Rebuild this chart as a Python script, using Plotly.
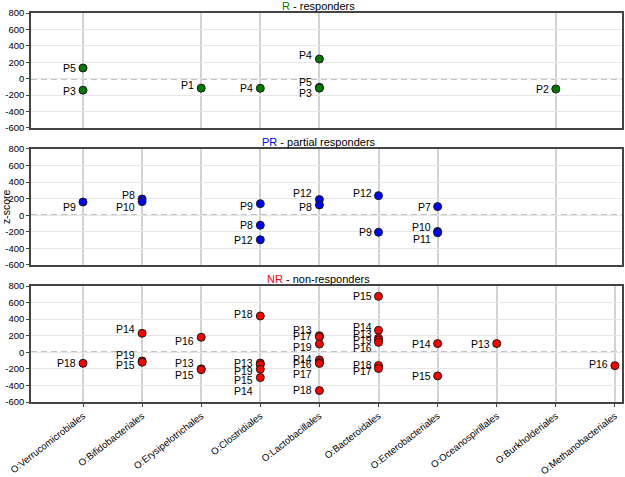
import plotly.graph_objects as go

categories = ["O:Verrucomicrobiales", "O:Bifidobacteriales", "O:Erysipelotrichales",
              "O:Clostridiales", "O:Lactobacillales", "O:Bacteroidales",
              "O:Enterobacteriales", "O:Oceanospirillales", "O:Burkholderiales",
              "O:Methanobacteriales"]
y_ticks = [800, 600, 400, 200, 0, -200, -400, -600]

# R - responders
R_cat = ["O:Verrucomicrobiales", "O:Verrucomicrobiales", "O:Erysipelotrichales",
         "O:Clostridiales", "O:Lactobacillales", "O:Lactobacillales",
         "O:Lactobacillales", "O:Burkholderiales"]
R_pat = ["P5", "P3", "P1", "P4", "P4", "P5", "P3", "P2"]
R_val = [130, -140, -115, -117, 240, -105, -115, -125]

# PR - partial responders
PR_cat = ["O:Verrucomicrobiales", "O:Bifidobacteriales", "O:Bifidobacteriales",
          "O:Clostridiales", "O:Clostridiales", "O:Clostridiales",
          "O:Lactobacillales", "O:Lactobacillales", "O:Bacteroidales",
          "O:Bacteroidales", "O:Enterobacteriales", "O:Enterobacteriales",
          "O:Enterobacteriales"]
PR_pat = ["P9", "P8", "P10", "P9", "P8", "P12", "P12", "P8", "P12", "P9", "P7", "P10", "P11"]
PR_val = [160, 197, 165, 140, -120, -295, 189, 125, 237, -205, 105, -195, -210]

# NR - non-responders
NR_cat = ["O:Verrucomicrobiales",
          "O:Bifidobacteriales", "O:Bifidobacteriales", "O:Bifidobacteriales",
          "O:Erysipelotrichales", "O:Erysipelotrichales", "O:Erysipelotrichales",
          "O:Clostridiales", "O:Clostridiales", "O:Clostridiales", "O:Clostridiales",
          "O:Clostridiales",
          "O:Lactobacillales", "O:Lactobacillales", "O:Lactobacillales",
          "O:Lactobacillales", "O:Lactobacillales", "O:Lactobacillales",
          "O:Lactobacillales",
          "O:Bacteroidales", "O:Bacteroidales", "O:Bacteroidales", "O:Bacteroidales",
          "O:Bacteroidales", "O:Bacteroidales", "O:Bacteroidales",
          "O:Enterobacteriales", "O:Enterobacteriales",
          "O:Oceanospirillales", "O:Methanobacteriales"]
NR_pat = ["P18",
          "P14", "P19", "P15",
          "P16", "P13", "P15",
          "P18", "P13", "P14", "P19", "P15",
          "P13", "P17", "P19", "P14", "P16", "P17", "P18",
          "P15", "P14", "P13", "P19", "P16", "P18", "P17",
          "P14", "P15",
          "P13", "P16"]
NR_val = [-133,
          229, -105, -120,
          181, -200, -210,
          438, -130, -150, -205, -305,
          200, 185, 100, -92, -123, -135, -462,
          675, 265, 170, 150, 120, -160, -195,
          105, -285,
          105, -161]

# label nudges (pixels, up positive) to avoid overlapping labels
R_nudge = [0, -1, 3, 0, 4, 5, -5, 0]
PR_nudge = [-5, 4, -5, -2, 0, 0, 7, -2, 3, 0, 0, 4, -6]
NR_nudge = [0,
            4, 6, -3,
            -4, 6, -5,
            2, 0, -26, -2, -2,
            6, 1, -3, 1, -2, -11, 1,
            0, 3, 4, 0, -6, 1, -3,
            0, 0,
            0, 2]

# vertical gridlines shown per panel
R_grid = ["O:Verrucomicrobiales", "O:Erysipelotrichales", "O:Clostridiales",
          "O:Lactobacillales", "O:Burkholderiales"]
PR_grid = ["O:Verrucomicrobiales", "O:Bifidobacteriales", "O:Erysipelotrichales",
           "O:Clostridiales", "O:Lactobacillales", "O:Bacteroidales",
           "O:Enterobacteriales", "O:Burkholderiales"]
NR_grid = categories

FONT = "Liberation Sans, Arial, Helvetica, sans-serif"

panels = [
    ("R", " - responders", "#007a00", R_cat, R_pat, R_val, R_nudge, R_grid),
    ("PR", " - partial responders", "#0000ff", PR_cat, PR_pat, PR_val, PR_nudge, PR_grid),
    ("NR", " - non-responders", "#ff0000", NR_cat, NR_pat, NR_val, NR_nudge, NR_grid),
]

domains = [(0.7044, 1.0), (0.3522, 0.6504), (0.0, 0.2982)]

fig = go.Figure()
annotations = []
shapes = []
layout = {}

for i, (abbr, rest, color, cats, pats, vals, nudges, grid) in enumerate(panels):
    n = i + 1
    xa = "x" if n == 1 else f"x{n}"
    ya = "y" if n == 1 else f"y{n}"
    fig.add_trace(go.Scatter(
        x=cats, y=vals, mode="markers", xaxis=xa, yaxis=ya,
        marker=dict(size=8, color=color, line=dict(color="#1a1a1a", width=1)),
        showlegend=False, hoverinfo="text", text=pats, cliponaxis=False,
    ))
    for c, p, v, s in zip(cats, pats, vals, nudges):
        annotations.append(dict(
            x=c, y=v, xref=xa, yref=ya, text=p, showarrow=False,
            xanchor="right", yanchor="middle", xshift=-5, yshift=s,
            font=dict(family=FONT, size=10.5, color="#000"),
        ))
    # panel title
    annotations.append(dict(
        x=0.487, y=domains[i][1], xref="paper", yref="paper",
        text=f"<span style='color:{color}'>{abbr}</span>{rest}",
        showarrow=False, xanchor="center", yanchor="bottom", yshift=-1,
        font=dict(family=FONT, size=11, color="#000"),
    ))
    # dashed zero line
    shapes.append(dict(
        type="line", xref=f"{xa} domain", yref=ya, x0=0, x1=1, y0=0, y1=0,
        line=dict(color="#888888", width=1.5, dash="6px,4px"), layer="below",
    ))
    key_x = "xaxis" if n == 1 else f"xaxis{n}"
    key_y = "yaxis" if n == 1 else f"yaxis{n}"
    layout[key_x] = dict(
        type="category", categoryorder="array", categoryarray=categories,
        range=[-0.88, 9.12], anchor=ya, domain=[0, 1], automargin=False,
        tickmode="array", tickvals=grid,
        showticklabels=(n == 3), tickangle=-38,
        tickfont=dict(family=FONT, size=9.6, color="#000"),
        showgrid=True, gridcolor="#d2d2d2", gridwidth=1.5,
        ticks="outside" if n == 3 else "", ticklen=3, tickcolor="#444",
        showline=True, linecolor="#444", linewidth=1.5, mirror=True,
        zeroline=False, fixedrange=True,
    )
    layout[key_y] = dict(
        range=[-600, 800], domain=list(domains[i]), anchor=xa, automargin=False,
        tickmode="array", tickvals=y_ticks, ticktext=[str(t) for t in y_ticks],
        tickfont=dict(family=FONT, size=9.5, color="#000"),
        showgrid=True, gridcolor="#e6e6e6", gridwidth=1,
        ticks="outside", ticklen=3, tickcolor="#444",
        showline=True, linecolor="#444", linewidth=1.5, mirror=True,
        zeroline=False, fixedrange=True,
    )

annotations.append(dict(
    x=0, y=0.5013, xref="paper", yref="paper", text="z-score", textangle=-90,
    showarrow=False, xanchor="center", yanchor="middle", xshift=-25,
    font=dict(family=FONT, size=10.5, color="#000"),
))

fig.update_layout(
    width=625, height=477, autosize=False,
    margin=dict(l=31, r=3, t=13, b=75, autoexpand=False),
    plot_bgcolor="white", paper_bgcolor="white",
    annotations=annotations, shapes=shapes,
    font=dict(family=FONT, size=10, color="#000"),
    **layout,
)

fig.write_html("out.html", config={"displayModeBar": False},
               post_script="document.body.style.margin='0';document.body.style.overflow='hidden';")
